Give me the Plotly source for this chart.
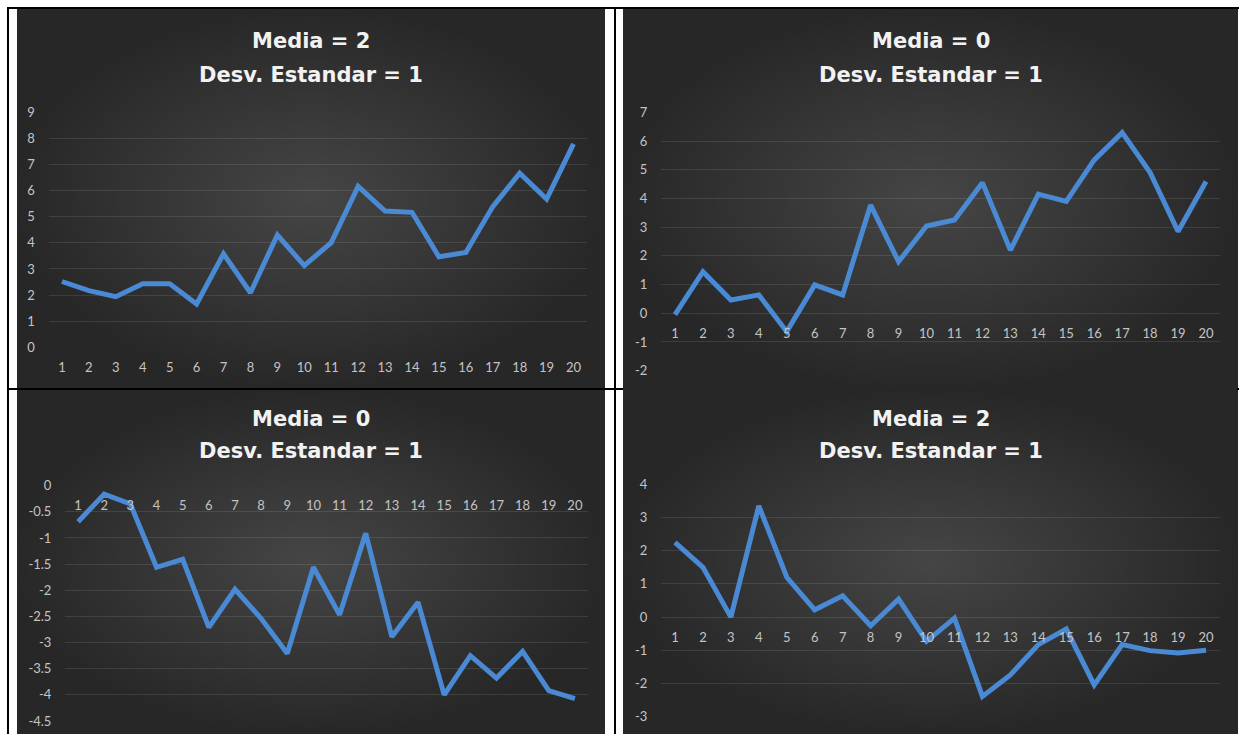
import plotly.graph_objects as go

categorias = [str(i) for i in range(1, 21)]
serie_a = [2.52, 2.17, 1.94, 2.43, 2.43, 1.66, 3.58, 2.09, 4.30, 3.13,
           4.01, 6.16, 5.22, 5.17, 3.47, 3.63, 5.39, 6.67, 5.68, 7.79]
serie_b = [-0.05, 1.45, 0.46, 0.64, -0.64, 0.99, 0.64, 3.77, 1.80, 3.04,
           3.25, 4.55, 2.20, 4.15, 3.90, 5.34, 6.29, 4.90, 2.85, 4.59]
serie_c = [-0.69, -0.16, -0.35, -1.56, -1.41, -2.71, -1.98, -2.54, -3.21, -1.56,
           -2.47, -0.91, -2.89, -2.23, -4.00, -3.25, -3.68, -3.17, -3.92, -4.07]
serie_d = [2.25, 1.50, 0.00, 3.35, 1.20, 0.22, 0.64, -0.26, 0.54, -0.73,
           -0.03, -2.39, -1.74, -0.83, -0.36, -2.04, -0.83, -1.01, -1.08, -1.00]

titulos_media = ["Media = 2", "Media = 0", "Media = 0", "Media = 2"]
titulo_desv = "Desv. Estandar = 1"

ticks_a = [0, 1, 2, 3, 4, 5, 6, 7, 8, 9]
ticks_b = [-2, -1, 0, 1, 2, 3, 4, 5, 6, 7]
ticks_c = [-4.5, -4, -3.5, -3, -2.5, -2, -1.5, -1, -0.5, 0]
ticks_d = [-3, -2, -1, 0, 1, 2, 3, 4]

W, H = 1239, 734


def px(x):
    return x / W


def py(y):
    return 1 - y / H


# (serie, ticks, imagen x0,x1,y0,y1, plot x0,x1,y0,y1, titulo cx, y1, y2)
paneles = [
    (serie_a, ticks_a, (17, 605, 9, 388), (48.5, 587, 112.3, 347.3), 311, 41, 75),
    (serie_b, ticks_b, (623, 1238, 9, 390), (661, 1220, 112.3, 370.7), 931, 41, 75),
    (serie_c, ticks_c, (17, 605, 390, 734), (65, 588, 485.7, 721), 311, 419, 451),
    (serie_d, ticks_d, (623, 1238, 390, 734), (661, 1220, 484.3, 716.7), 931, 419, 451),
]

fuente_ticks = dict(family='Lato', size=13, color='#c4c4c4')
fuente_titulo = dict(family='DejaVu Sans', size=21, color='#f2f2f2', weight='bold')

fig = go.Figure()
shapes = []
annotations = []
layout = {}

for i, (serie, ticks, img, area, tcx, ty1, ty2) in enumerate(paneles):
    n = '' if i == 0 else str(i + 1)
    ix0, ix1, iy0, iy1 = img
    ax0, ax1, ay0, ay1 = area

    # fondo oscuro con degradado radial aproximado
    shapes.append(dict(type='rect', xref='paper', yref='paper', layer='below',
                       x0=px(ix0), x1=px(ix1), y0=py(iy1), y1=py(iy0),
                       fillcolor='#272727', line=dict(width=0)))
    cx, cy = (ix0 + ix1) / 2, (iy0 + iy1) / 2
    hw, hh = (ix1 - ix0) / 2, (iy1 - iy0) / 2
    pasos = 30
    for k in range(pasos):
        f = 1 - k / pasos
        shapes.append(dict(type='circle', xref='paper', yref='paper', layer='below',
                           x0=px(cx - hw * f), x1=px(cx + hw * f),
                           y0=py(cy + hh * f), y1=py(cy - hh * f),
                           fillcolor='rgba(255,255,255,0.0095)', line=dict(width=0)))

    fig.add_trace(go.Scatter(
        x=categorias, y=serie, mode='lines',
        line=dict(color='#4a8ad4', width=5),
        xaxis='x' + n, yaxis='y' + n, showlegend=False, hoverinfo='x+y'
    ))

    ymin, ymax = ticks[0], ticks[-1]
    dom_y = [py(ay1), py(ay0)]
    pos0 = dom_y[0] + (0 - ymin) / (ymax - ymin) * (dom_y[1] - dom_y[0])

    layout['xaxis' + n] = dict(
        domain=[px(ax0), px(ax1)], type='category', range=[-0.5, 19.5],
        anchor='free', position=pos0, showgrid=False, showline=False, zeroline=False,
        ticks='outside', ticklen=8, tickcolor='rgba(0,0,0,0)', automargin=False,
        tickfont=fuente_ticks, fixedrange=True
    )
    layout['yaxis' + n] = dict(
        domain=dom_y, range=[ymin, ymax], anchor='x' + n,
        tickvals=ticks, ticktext=[f'{v:g}' for v in ticks],
        showgrid=True, gridcolor='rgba(255,255,255,0.10)', gridwidth=1,
        zeroline=False, showline=False, automargin=False,
        ticks='outside', ticklen=10, tickcolor='rgba(0,0,0,0)',
        tickfont=fuente_ticks, fixedrange=True
    )

    annotations.append(dict(text=titulos_media[i], xref='paper', yref='paper',
                            x=px(tcx), y=py(ty1), showarrow=False,
                            xanchor='center', yanchor='middle', font=fuente_titulo))
    annotations.append(dict(text=titulo_desv, xref='paper', yref='paper',
                            x=px(tcx), y=py(ty2), showarrow=False,
                            xanchor='center', yanchor='middle', font=fuente_titulo))

# bordes negros de la tabla
bordes = [(7, 1239, 7, 9), (7, 9, 7, 734), (614, 616, 7, 734),
          (7, 623, 388, 390), (1237, 1239, 388, 390)]
for x0, x1, y0, y1 in bordes:
    shapes.append(dict(type='rect', xref='paper', yref='paper', layer='above',
                       x0=px(x0), x1=px(x1), y0=py(y1), y1=py(y0),
                       fillcolor='black', line=dict(width=0)))

fig.update_layout(
    width=W, height=H,
    margin=dict(l=0, r=0, t=0, b=0),
    paper_bgcolor='white',
    plot_bgcolor='rgba(0,0,0,0)',
    shapes=shapes,
    annotations=annotations,
    **layout
)

ajuste = ("var gd=document.getElementById('{plot_id}');"
          "gd.style.position='fixed';gd.style.top='0px';gd.style.left='0px';"
          "document.body.style.margin='0';"
          "document.documentElement.style.overflow='hidden';")
fig.write_html("out.html", config={'displayModeBar': False}, post_script=ajuste)
